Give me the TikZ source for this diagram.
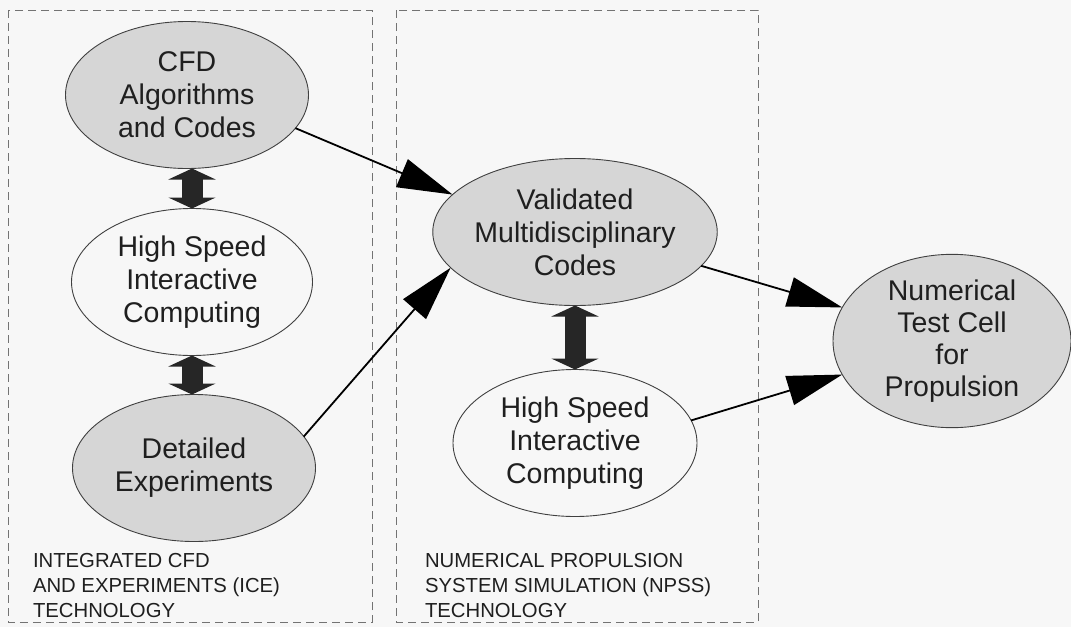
\documentclass[tikz,border=0pt]{standalone}
\usepackage{fontspec}
\setmainfont{Liberation Sans}
\usetikzlibrary{shapes.geometric,arrows.meta}
\begin{document}
\begin{tikzpicture}[x=1pt,y=-1pt,
  every node/.style={inner sep=0pt, outer sep=0pt},
  oval/.style={ellipse, draw=black!75, line width=0.9pt, minimum width=243pt, minimum height=147pt, align=center, font=\fontsize{28.5}{33}\selectfont, text=black!88},
  shaded/.style={oval, fill=black!16},
  plain/.style={oval},
  flow/.style={draw=black, line width=1.8pt, -{Triangle[length=55pt,width=30pt]}},
  fat/.style={draw=black!85, line width=21pt, {Triangle[length=11pt,width=47pt]}-{Triangle[length=11pt,width=47pt]}},
  region/.style={draw=black!55, line width=0.8pt, dash pattern=on 8pt off 5pt},
  caption/.style={anchor=north west, align=left, font=\fontsize{20.3}{25}\selectfont, text=black!88}]
\fill[black!3] (0,0) rectangle (1071,627);
\useasboundingbox (0,0) rectangle (1071,627);

% dashed regions
\draw[region] (8,10) rectangle (372,622);
\draw[region] (396,10) rectangle (758,622);

% nodes
\node[shaded] (cfd) at (187,95) {CFD\\Algorithms\\and Codes};
\node[plain, minimum width=241pt] (hsic1) at (192,282) {High Speed\\Interactive\\Computing};
\node[shaded] (det) at (194,468) {Detailed\\Experiments};
\node[shaded, minimum width=244pt] (val) at (575,232) {Validated\\Multidisciplinary\\Codes};
\node[plain, minimum width=244pt] (hsic2) at (575,443) {High Speed\\Interactive\\Computing};
\node[shaded, minimum width=238pt, font=\fontsize{28.5}{32}\selectfont] (num) at (952,341) {Numerical\\Test Cell\\for\\Propulsion};

% captions
\node[caption] (ice) at (33,553) {INTEGRATED CFD\\AND EXPERIMENTS (ICE)\\TECHNOLOGY};
\node[caption] (npss) at (425,553) {NUMERICAL PROPULSION\\SYSTEM SIMULATION (NPSS)\\TECHNOLOGY};

% fat double arrows
\draw[fat] (hsic1.north |- cfd.south) -- (hsic1.north);
\draw[fat] (hsic1.south) -- (hsic1.south |- det.north);
\draw[fat] (val.south) -- (val.south |- hsic2.north);

% flow arrows
\draw[flow] (cfd.-17) -- (val.163);
\draw[flow] (det.16) -- (val.196);
\draw[flow] (val.-15) -- (num.163);
\draw[flow] (hsic2.11) -- (num.197);
\end{tikzpicture}
\end{document}
